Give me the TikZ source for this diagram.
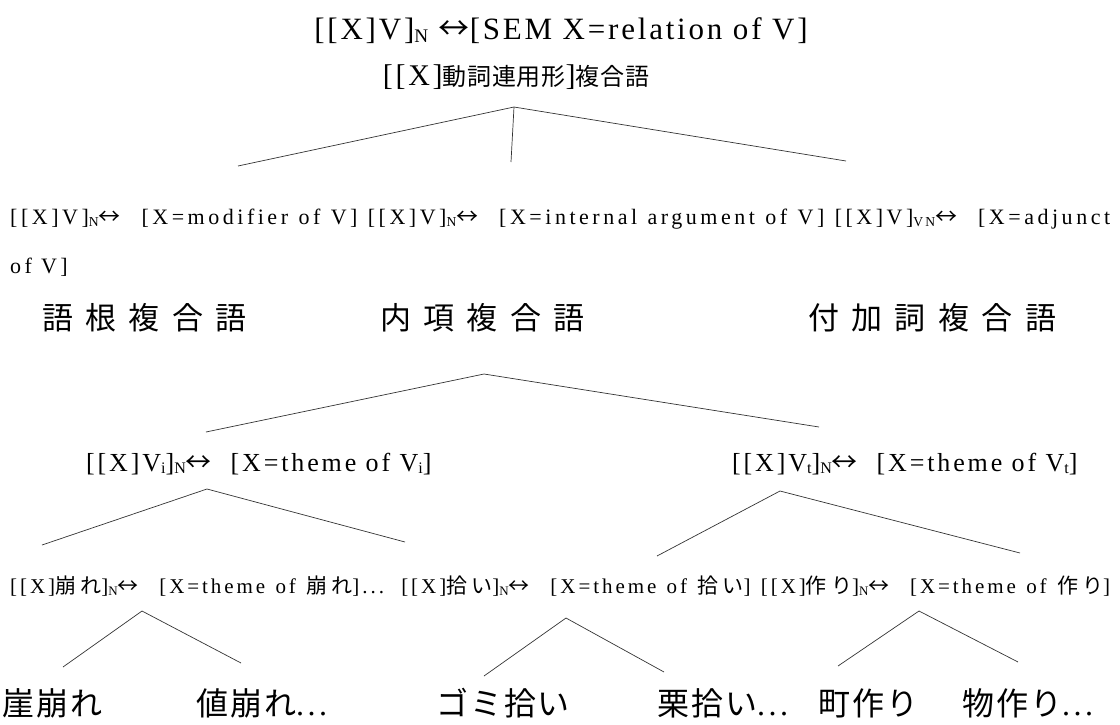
\documentclass[tikz,border=0pt]{standalone}
\usepackage{fontspec}
\usepackage{graphicx}
\setmainfont{Liberation Serif}
\newfontfamily\latA[LetterSpace=9]{Liberation Serif}
\newfontfamily\latB[LetterSpace=14]{Liberation Serif}
\newfontfamily\latD[LetterSpace=16]{Liberation Serif}
\newfontfamily\latC[LetterSpace=11]{Liberation Serif}
\newfontfamily\jpS[LetterSpace=20]{Noto Sans CJK JP}
\newfontfamily\jpT[LetterSpace=3]{Noto Sans CJK JP}
\newfontfamily\jpM[LetterSpace=40]{Noto Sans CJK JP}
\newfontfamily\jpL[LetterSpace=6]{Noto Sans CJK JP}
\newfontfamily\jpA{Noto Sans CJK JP}
\newcommand\arr{{\jpA ↔}}
\newcommand\sbs[1]{\raisebox{-0.1em}{\scalebox{0.62}{#1}}}
\newcommand\fs[1]{\fontsize{#1}{#1}\selectfont}
\begin{document}
\begin{tikzpicture}[x=1pt,y=-1pt,
  txt/.style={inner sep=0pt, anchor=base west},
  br/.style={line width=0.7pt, draw=black!80}]
\useasboundingbox (0,0) rectangle (1120,724);
% texts
\node[inner sep=0pt, anchor=base] (r1) at (561,39) {\fs{31}\latA [[X]V]\sbs{N} \arr[SEM X=relation of V]};
\node[inner sep=0pt, anchor=base] (r2) at (516,85) {\fs{30}\latA [[X]{\fs{24}\jpT 動詞連用形}]{\fs{24}\jpT 複合語}};
\node[txt] (r3) at (10,224) {\fs{22}\latD\makebox[1100pt][s]{[[X]V]\sbs{N}\arr\ \ [X=modifier of V] [[X]V]\sbs{N}\arr\ \ [X=internal argument of V] [[X]V]\sbs{VN}\arr\ \ [X=adjunct}};
\node[txt] (r3b) at (10,273) {\fs{22}\latD of V]};
\node[txt] (k1) at (42,329) {\fs{31}\jpM 語根複合語};
\node[txt] (k2) at (380,329) {\fs{31}\jpM 内項複合語};
\node[txt] (k3) at (808,329) {\fs{31}\jpM 付加詞複合語};
\node[txt] (vi) at (86,471) {\fs{26}\latC [[X]V\sbs{i}]\sbs{N}\arr\ \ [X=theme of V\sbs{i}]};
\node[txt] (vt) at (732,471) {\fs{26}\latC [[X]V\sbs{t}]\sbs{N}\arr\ \ [X=theme of V\sbs{t}]};
\node[txt] (r6) at (10,593) {\fs{21}\latB\makebox[1100pt][s]{[[X]{\jpS 崩れ}]\sbs{N}\arr\ \ [X=theme of {\jpS 崩れ}]... [[X]{\jpS 拾い}]\sbs{N}\arr\ \ [X=theme of {\jpS 拾い}] [[X]{\jpS 作り}]\sbs{N}\arr\ \ [X=theme of {\jpS 作り}]}};
\node[txt] (w1) at (2,715) {\fs{32}\jpL 崖崩れ};
\node[txt] (w2) at (196,715) {\fs{32}\jpL 値崩れ{\latC ...}};
\node[txt] (w3) at (436,715) {\fs{32}\jpL ゴミ拾い};
\node[txt] (w4) at (657,715) {\fs{32}\jpL 栗拾い{\latC ...}};
\node[txt] (w5) at (818,715) {\fs{32}\jpL 町作り};
\node[txt] (w6) at (962,715) {\fs{32}\jpL 物作り{\latC ...}};
% branch points
\coordinate (a) at (514,107); \coordinate (al) at (238,166); \coordinate (am) at (511,162); \coordinate (ar) at (846,161);
\coordinate (b) at (484,374); \coordinate (bl) at (206,432); \coordinate (br) at (819,427);
\coordinate (c) at (207,489); \coordinate (cl) at (42,545); \coordinate (cr) at (405,542);
\coordinate (d) at (780,491); \coordinate (dl) at (657,556); \coordinate (dr) at (1020,553);
\coordinate (e) at (142,611); \coordinate (el) at (63,667); \coordinate (er) at (241,663);
\coordinate (f) at (566,618); \coordinate (fl) at (484,676); \coordinate (fr) at (664,672);
\coordinate (g) at (919,611); \coordinate (gl) at (838,666); \coordinate (gr) at (1018,662);
\draw[br] (al) -- (a) -- (ar); \draw[br] (a) -- (am);
\draw[br] (bl) -- (b) -- (br);
\draw[br] (cl) -- (c) -- (cr);
\draw[br] (dl) -- (d) -- (dr);
\draw[br] (el) -- (e) -- (er);
\draw[br] (fl) -- (f) -- (fr);
\draw[br] (gl) -- (g) -- (gr);
\end{tikzpicture}
\end{document}
